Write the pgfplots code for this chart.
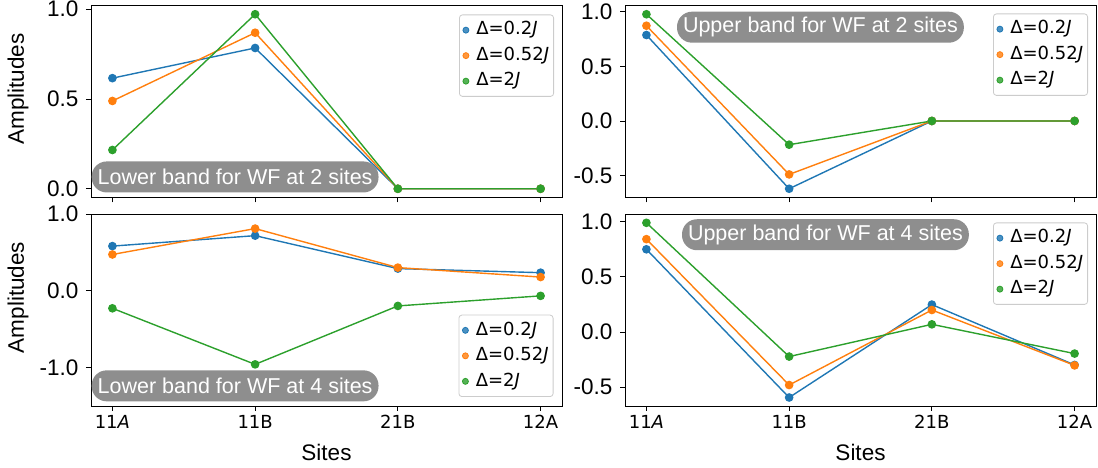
\documentclass[border=0pt]{standalone}
\usepackage{fontspec}
\setmainfont{Liberation Sans}
\newfontfamily\djv{DejaVu Sans}
\usepackage{pgfplots}
\pgfplotsset{compat=1.18}
\definecolor{c1}{HTML}{1F77B4}
\definecolor{c2}{HTML}{FF7F0E}
\definecolor{c3}{HTML}{2CA02C}
\definecolor{boxgray}{RGB}{142,142,142}
\newcommand{\fA}{\fontsize{22.5}{26}\selectfont}
\newcommand{\fT}{\djv\fontsize{18}{21}\selectfont}
\newcommand{\fL}{\djv\fontsize{18}{21}\selectfont}
\newcommand{\fB}{\fontsize{21.5}{25}\selectfont}
\tikzset{annot/.style={fill=boxgray, text=white, font=\fB, rounded corners=15pt, minimum height=31pt, inner xsep=6pt, anchor=west}}
\pgfplotsset{
  panel/.style={
    scale only axis, width=471pt, height=192pt,
    xmin=-0.15, xmax=3.15,
    xtick={0,1,2,3},
    clip=false,
    axis line style={line width=0.9pt, black},
    every tick/.style={line width=0.9pt, black},
    major tick length=5pt,
    tick align=outside,
    xtick pos=bottom, ytick pos=left,
    yticklabel style={font=\fA, xshift=-4pt},
    xticklabel style={font=\fT, yshift=-1pt},
    /pgf/number format/assume math mode=true,
    legend cell align=left,
    legend image code/.code={\node[inner sep=0pt, minimum width=12pt, minimum height=1pt, draw=none, fill=none, anchor=west] at (-3pt,0pt) {}; \draw[##1, only marks] plot coordinates {(0pt,0pt)};},
    legend style={font=\fL, draw=black!20, line width=0.8pt, rounded corners=3pt, fill=white, fill opacity=0.8, text opacity=1,
      inner xsep=3.5pt, inner ysep=6pt, row sep=7pt,
      nodes={inner xsep=1pt, inner ysep=1pt, text height=13pt, text depth=3.5pt, anchor=west}},
    ylabel style={at={(axis description cs:-0.155,0.565)}, anchor=center, font=\fA},
    xlabel style={at={(axis description cs:0.5,0)}, anchor=base, yshift=-55pt, font=\fA},
  },
  ser/.style={line width=1.4pt, mark=*, mark size=3.6pt, mark options={solid}, forget plot},
}
\begin{document}
\begin{tikzpicture}
\useasboundingbox (0pt,0pt) rectangle (1098pt,468pt);

% top left
\begin{axis}[panel, at={(91pt,270.5pt)}, anchor=south west,
  ymin=-0.0486, ymax=1.0206,
  ytick={0,0.5,1}, yticklabels={0.0,0.5,1.0},
  xticklabels={},
  ylabel={Amplitudes},
  legend style={at={(axis description cs:1,1)}, anchor=north east, xshift=-8pt, yshift=-9pt}]
\addlegendimage{only marks, mark=*, mark size=3pt, c1}
\addlegendentry{Δ=0.2\textit{J}}
\addlegendimage{only marks, mark=*, mark size=3pt, c2}
\addlegendentry{Δ=0.52\textit{J}}
\addlegendimage{only marks, mark=*, mark size=3pt, c3}
\addlegendentry{Δ=2\textit{J}}
\addplot[ser, c1] coordinates {(0,0.616) (1,0.784) (2,0) (3,0)};
\addplot[ser, c2] coordinates {(0,0.489) (1,0.869) (2,0) (3,0)};
\addplot[ser, c3] coordinates {(0,0.216) (1,0.972) (2,0) (3,0)};
\node[annot] at (rel axis cs:0.001,0.107) {Lower band for WF at 2 sites};
\end{axis}

% top right
\begin{axis}[panel, at={(625pt,270.5pt)}, anchor=south west,
  ymin=-0.70, ymax=1.056,
  ytick={-0.5,0,0.5,1}, yticklabels={-0.5,0.0,0.5,1.0},
  xticklabels={},
  legend style={at={(axis description cs:1,1)}, anchor=north east, xshift=-8pt, yshift=-8pt}]
\addlegendimage{only marks, mark=*, mark size=3pt, c1}
\addlegendentry{Δ=0.2\textit{J}}
\addlegendimage{only marks, mark=*, mark size=3pt, c2}
\addlegendentry{Δ=0.52\textit{J}}
\addlegendimage{only marks, mark=*, mark size=3pt, c3}
\addlegendentry{Δ=2\textit{J}}
\addplot[ser, c1] coordinates {(0,0.786) (1,-0.620) (2,0) (3,0)};
\addplot[ser, c2] coordinates {(0,0.871) (1,-0.489) (2,0) (3,0)};
\addplot[ser, c3] coordinates {(0,0.976) (1,-0.217) (2,0) (3,0)};
\node[annot] at (rel axis cs:0.11,0.887) {Upper band for WF at 2 sites};
\end{axis}

% bottom left
\begin{axis}[panel, at={(91pt,62pt)}, anchor=south west,
  ymin=-1.5, ymax=1.0,
  ytick={-1,0,1}, yticklabels={-1.0,0.0,1.0},
  xticklabels={11\textit{A},11B,21B,12A},
  ylabel={Amplitudes}, xlabel={Sites},
  legend style={at={(axis description cs:1,0)}, anchor=south east, xshift=-8.5pt, yshift=9pt}]
\addlegendimage{only marks, mark=*, mark size=3pt, c1}
\addlegendentry{Δ=0.2\textit{J}}
\addlegendimage{only marks, mark=*, mark size=3pt, c2}
\addlegendentry{Δ=0.52\textit{J}}
\addlegendimage{only marks, mark=*, mark size=3pt, c3}
\addlegendentry{Δ=2\textit{J}}
\addplot[ser, c1] coordinates {(0,0.582) (1,0.718) (2,0.289) (3,0.236)};
\addplot[ser, c2] coordinates {(0,0.473) (1,0.810) (2,0.302) (3,0.179)};
\addplot[ser, c3] coordinates {(0,-0.228) (1,-0.958) (2,-0.197) (3,-0.066)};
\node[annot] at (rel axis cs:0.001,0.105) {Lower band for WF at 4 sites\hspace{12pt}};
\end{axis}

% bottom right
\begin{axis}[panel, at={(625pt,62pt)}, anchor=south west,
  ymin=-0.67, ymax=1.07,
  ytick={-0.5,0,0.5,1}, yticklabels={-0.5,0.0,0.5,1.0},
  xticklabels={11\textit{A},11B,21B,12A},
  xlabel={Sites},
  legend style={at={(axis description cs:1,1)}, anchor=north east, xshift=-8pt, yshift=-8.5pt}]
\addlegendimage{only marks, mark=*, mark size=3pt, c1}
\addlegendentry{Δ=0.2\textit{J}}
\addlegendimage{only marks, mark=*, mark size=3pt, c2}
\addlegendentry{Δ=0.52\textit{J}}
\addlegendimage{only marks, mark=*, mark size=3pt, c3}
\addlegendentry{Δ=2\textit{J}}
\addplot[ser, c1] coordinates {(0,0.750) (1,-0.593) (2,0.249) (3,-0.298)};
\addplot[ser, c2] coordinates {(0,0.842) (1,-0.480) (2,0.200) (3,-0.302)};
\addplot[ser, c3] coordinates {(0,0.990) (1,-0.222) (2,0.070) (3,-0.195)};
\node[annot] at (rel axis cs:0.1206,0.892) {Upper band for WF at 4 sites};
\end{axis}
\end{tikzpicture}
\end{document}
